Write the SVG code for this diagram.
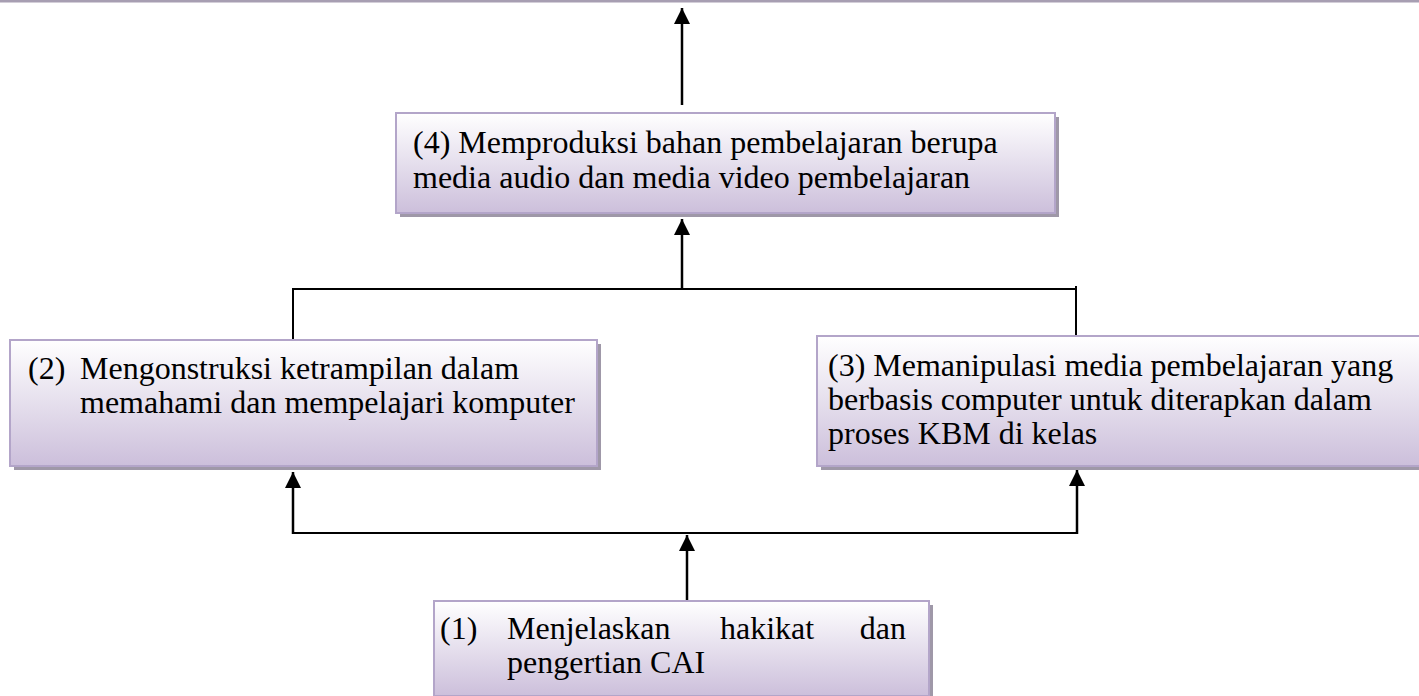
<svg xmlns="http://www.w3.org/2000/svg" width="1419" height="696" viewBox="0 0 1419 696">
<defs>
<linearGradient id="g" x1="0" y1="0" x2="0" y2="1">
<stop offset="0" stop-color="#ffffff"/>
<stop offset="1" stop-color="#ccbfdb"/>
</linearGradient>
<marker id="ah" viewBox="0 0 10 10" refX="10" refY="5" markerWidth="6.5" markerHeight="6.5" markerUnits="strokeWidth" orient="auto">
<path d="M0,0 L10,5 L0,10 z" fill="#000"/>
</marker>
<style>
.box{fill:url(#g);stroke:#b3a5c9;stroke-width:2}
.sh{fill:#9f98a8}
.t{font-family:"Liberation Serif","Times New Roman",serif;font-size:32px;fill:#000}
.ln{stroke:#000;stroke-width:2;fill:none}
.ar{stroke:#000;stroke-width:2.5;fill:none;marker-end:url(#ah)}
</style>
</defs>
<rect width="1419" height="696" fill="#fff"/>
<rect x="0" y="0" width="1419" height="2.5" fill="#a79eb2"/>

<g id="connectors">
<line class="ar" x1="682" y1="105" x2="682" y2="8"/>
<line class="ar" x1="682" y1="289" x2="682" y2="219"/>
<polyline class="ln" points="293,340 293,289 1076,289 1076,336"/>
<line class="ln" x1="1076" y1="286" x2="1076" y2="290"/>
<polyline class="ln" points="293,533 1077,533"/>
<line class="ar" x1="293" y1="534" x2="293" y2="472"/>
<line class="ar" x1="1077" y1="534" x2="1077" y2="470"/>
<line class="ar" x1="687" y1="601" x2="687" y2="535"/>
</g>

<g id="node4">
<rect class="sh" x="400" y="117" width="659" height="100"/>
<rect class="box" x="396" y="113" width="659" height="100"/>
<text class="t" x="413" y="153">(4) Memproduksi bahan pembelajaran berupa</text>
<text class="t" x="413" y="188">media audio dan media video pembelajaran</text>
</g>

<g id="node2">
<rect class="sh" x="14" y="344" width="587" height="126"/>
<rect class="box" x="10" y="340" width="587" height="126"/>
<text class="t" x="28" y="379">(2)</text>
<text class="t" x="80" y="379">Mengonstruksi ketrampilan dalam</text>
<text class="t" x="80" y="413">memahami dan mempelajari komputer</text>
</g>

<g id="node3">
<rect class="sh" x="821" y="340" width="620" height="130"/>
<rect class="box" x="817" y="336" width="620" height="130"/>
<text class="t" x="828" y="376">(3) Memanipulasi media pembelajaran yang</text>
<text class="t" x="828" y="410">berbasis computer untuk diterapkan dalam</text>
<text class="t" x="828" y="444">proses KBM di kelas</text>
</g>

<g id="node1">
<rect class="sh" x="438" y="605" width="495" height="95"/>
<rect class="box" x="434" y="601" width="495" height="95"/>
<text class="t" x="440" y="639">(1)</text>
<text class="t" x="507" y="639">Menjelaskan</text>
<text class="t" x="720" y="639">hakikat</text>
<text class="t" x="906" y="639" text-anchor="end">dan</text>
<text class="t" x="507" y="673">pengertian CAI</text>
</g>
</svg>
